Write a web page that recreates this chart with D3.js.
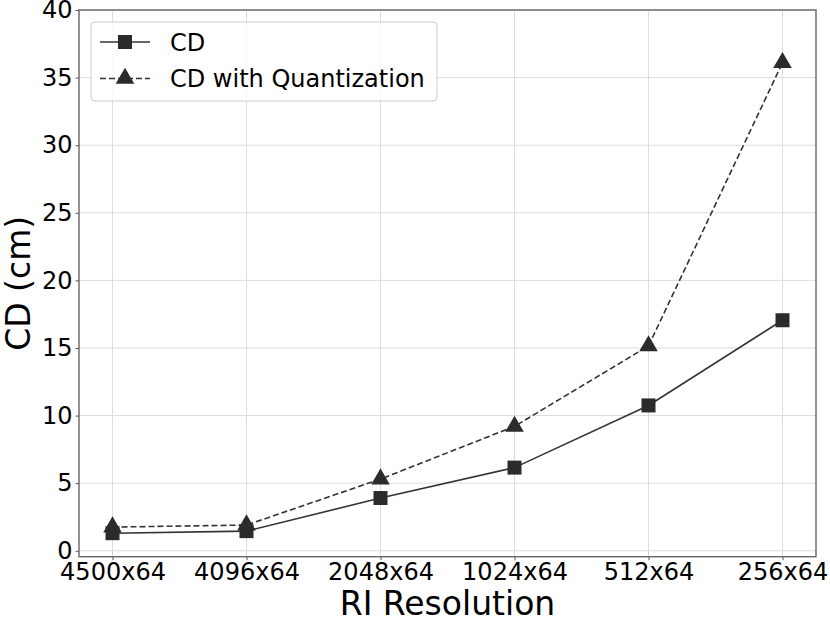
<!DOCTYPE html>
<html>
<head>
<meta charset="utf-8">
<script src="https://cdn.jsdelivr.net/npm/d3@7"></script>
<style>
  body { margin: 0; background: #fff; }
  text { font-family: "DejaVu Sans", sans-serif; }
</style>
</head>
<body>
<div id="chart"></div>
<script>
// RI resolution categories and CD values (cm)
const resolutions = ["4500x64", "4096x64", "2048x64", "1024x64", "512x64", "256x64"];
const cdValues = [1.3, 1.45, 3.9, 6.15, 10.75, 17.05];
const cdQuantValues = [1.75, 1.9, 5.3, 9.2, 15.15, 36.1];
const yTicks = [0, 5, 10, 15, 20, 25, 30, 35, 40];
const seriesNames = ["CD", "CD with Quantization"];

const width = 830, height = 622;
const plot = { left: 79, right: 816, top: 10, bottom: 556.7 };

const svg = d3.select("#chart").append("svg")
    .attr("width", width)
    .attr("height", height);

// index based x scale with matplotlib style margins
const x = d3.scaleLinear()
    .domain([-0.25, resolutions.length - 0.75])
    .range([plot.left, plot.right]);

// bottom limit is the auto margin below the smallest value
const y = d3.scaleLinear()
    .domain([-0.44, 40])
    .range([plot.bottom, plot.top]);

// grid
svg.append("g")
    .selectAll("line")
    .data(resolutions.map((_, i) => i))
    .enter().append("line")
    .attr("x1", d => x(d)).attr("x2", d => x(d))
    .attr("y1", plot.top).attr("y2", plot.bottom)
    .attr("stroke", "#dcdcdc").attr("stroke-width", 1);

svg.append("g")
    .selectAll("line")
    .data(yTicks)
    .enter().append("line")
    .attr("x1", plot.left).attr("x2", plot.right)
    .attr("y1", d => y(d)).attr("y2", d => y(d))
    .attr("stroke", "#dcdcdc").attr("stroke-width", 1);

// axes
const xAxis = svg.append("g")
    .attr("transform", "translate(0," + plot.bottom + ")")
    .call(d3.axisBottom(x)
        .tickValues(resolutions.map((_, i) => i))
        .tickFormat(i => resolutions[i])
        .tickSize(3.5).tickPadding(3));

const yAxis = svg.append("g")
    .attr("transform", "translate(" + plot.left + ",0)")
    .call(d3.axisLeft(y)
        .tickValues(yTicks)
        .tickSize(3.5).tickPadding(3));

[xAxis, yAxis].forEach(g => {
    g.select(".domain").remove();
    g.selectAll(".tick line").attr("stroke", "#555").attr("stroke-width", 1);
    g.selectAll(".tick text")
        .attr("fill", "#000")
        .style("font-size", "24px")
        .style("font-family", "'DejaVu Sans', sans-serif");
});

// frame
svg.append("rect")
    .attr("x", plot.left).attr("y", plot.top)
    .attr("width", plot.right - plot.left)
    .attr("height", plot.bottom - plot.top)
    .attr("fill", "none")
    .attr("stroke", "#666")
    .attr("stroke-width", 1.4);

// axis labels
svg.append("text")
    .attr("x", (plot.left + plot.right) / 2)
    .attr("y", 615)
    .attr("text-anchor", "middle")
    .style("font-size", "33px")
    .text("RI Resolution");

svg.append("text")
    .attr("transform", "translate(30," + ((plot.top + plot.bottom) / 2) + ") rotate(-90)")
    .attr("text-anchor", "middle")
    .style("font-size", "33px")
    .text("CD (cm)");

// lines
const line = d3.line()
    .x((d, i) => x(i))
    .y(d => y(d));

const lineColor = "#333";
const markColor = "#2b2b2b";

svg.append("path")
    .datum(cdValues)
    .attr("d", line)
    .attr("fill", "none")
    .attr("stroke", lineColor)
    .attr("stroke-width", 1.6);

svg.append("path")
    .datum(cdQuantValues)
    .attr("d", line)
    .attr("fill", "none")
    .attr("stroke", lineColor)
    .attr("stroke-width", 1.6)
    .attr("stroke-dasharray", "6,3");

const square = d3.symbol().type(d3.symbolSquare).size(196);
const triangle = d3.symbol().type(d3.symbolTriangle).size(150);

svg.append("g")
    .selectAll("path")
    .data(cdValues)
    .enter().append("path")
    .attr("d", square)
    .attr("transform", (d, i) => "translate(" + x(i) + "," + y(d) + ")")
    .attr("fill", markColor);

svg.append("g")
    .selectAll("path")
    .data(cdQuantValues)
    .enter().append("path")
    .attr("d", triangle)
    .attr("transform", (d, i) => "translate(" + x(i) + "," + y(d) + ")")
    .attr("fill", markColor);

// legend
const legend = svg.append("g");
legend.append("rect")
    .attr("x", 91).attr("y", 22)
    .attr("width", 346).attr("height", 79)
    .attr("rx", 4)
    .attr("fill", "#fff").attr("fill-opacity", 0.85)
    .attr("stroke", "#ccc");

seriesNames.forEach((name, i) => {
    const ly = 42 + i * 36.5;
    legend.append("line")
        .attr("x1", 100).attr("x2", 150)
        .attr("y1", ly).attr("y2", ly)
        .attr("stroke", lineColor)
        .attr("stroke-width", 1.6)
        .attr("stroke-dasharray", i === 1 ? "6,3" : null);
    legend.append("path")
        .attr("d", i === 0 ? square : triangle)
        .attr("transform", "translate(125," + ly + ")")
        .attr("fill", markColor);
    legend.append("text")
        .attr("x", 170).attr("y", ly)
        .attr("dy", "0.36em")
        .style("font-size", "24px")
        .text(name);
});
</script>
</body>
</html>
